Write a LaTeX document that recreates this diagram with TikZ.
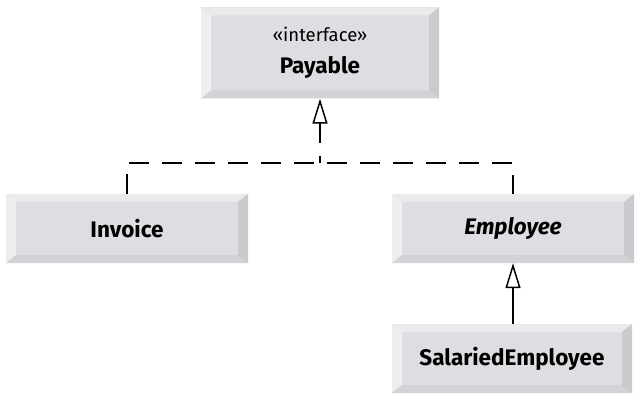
\documentclass[tikz,border=0pt]{standalone}
\usepackage{fontspec}
\setmainfont{Fira Sans}
\usepackage{xcolor}
\usepackage{tikz}
\usetikzlibrary{arrows.meta}

\definecolor{classface}{RGB}{220,222,225}
\definecolor{beveltop}{RGB}{233,234,236}
\definecolor{bevelleft}{RGB}{237,238,239}
\definecolor{bevelbottom}{RGB}{210,211,214}
\definecolor{bevelright}{RGB}{202,203,206}

\begin{document}
\begin{tikzpicture}[x=1pt,y=-1pt,font=\fontsize{22.5}{32}\selectfont,
      >={Triangle[open,length=25pt,width=15pt,fill=white]},
      class style/.style={rectangle,fill=classface,inner sep=0pt,
        minimum width=242pt,minimum height=69pt,align=center,
        path picture={
          \fill[beveltop] (path picture bounding box.north west) --
            (path picture bounding box.north east) --
            ([shift={(-10pt,-8pt)}]path picture bounding box.north east) --
            ([shift={(10pt,-8pt)}]path picture bounding box.north west) -- cycle;
          \fill[bevelleft] (path picture bounding box.north west) --
            ([shift={(10pt,-8pt)}]path picture bounding box.north west) --
            ([shift={(10pt,8pt)}]path picture bounding box.south west) --
            (path picture bounding box.south west) -- cycle;
          \fill[bevelbottom] (path picture bounding box.south west) --
            ([shift={(10pt,8pt)}]path picture bounding box.south west) --
            ([shift={(-10pt,8pt)}]path picture bounding box.south east) --
            (path picture bounding box.south east) -- cycle;
          \fill[bevelright] (path picture bounding box.north east) --
            (path picture bounding box.south east) --
            ([shift={(-10pt,8pt)}]path picture bounding box.south east) --
            ([shift={(-10pt,-8pt)}]path picture bounding box.north east) -- cycle;
        }},
      link/.style={line width=1.5pt},
      implement/.style={link,dash pattern=on 20pt off 13pt}
      ]
      \useasboundingbox (0,0) rectangle (640,401);

      \node[class style,minimum width=238pt,minimum height=91pt] (payable) at (320,53)
        {{\fontsize{18.5}{22}\selectfont «interface»}\\\textbf{Payable}};
      \node[class style] (invoice) at (127,228.5) {\textbf{Invoice}};
      \node[class style] (employee) at (513,228.5) {\textbf{\textit{Employee}}};
      \node[class style,minimum width=240pt] (salaried) at (512,358.5) {\textbf{SalariedEmployee}};

      \coordinate (join) at (320,163);

      \draw[implement] (invoice.north) |- (join) -| (employee.north);
      \draw[implement,<-] (payable.south) -- (join);
      \draw[link,->] (salaried.north -| employee.south) -- (employee.south);

    \end{tikzpicture}
\end{document}
